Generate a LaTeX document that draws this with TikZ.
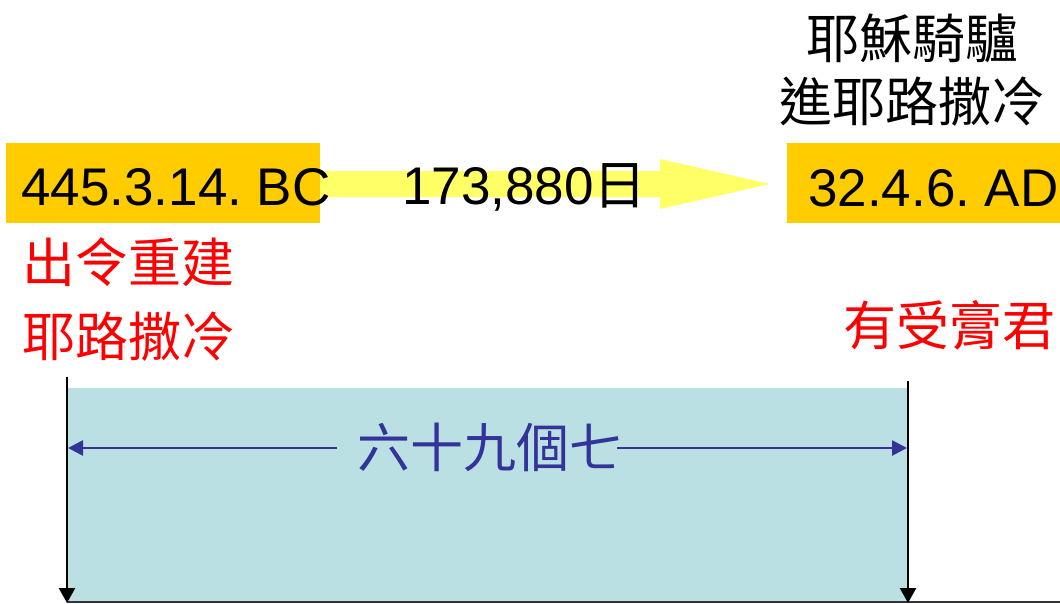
\documentclass[tikz,border=0pt]{standalone}
\usepackage{fontspec}
\setmainfont{Liberation Sans}
\newfontfamily\cjk{Noto Sans CJK TC}
\usetikzlibrary{arrows.meta}
\definecolor{boxorange}{HTML}{FFCC00}
\definecolor{arrowyellow}{HTML}{FFFF66}
\definecolor{spanblue}{HTML}{BBE0E3}
\definecolor{darkblue}{HTML}{333399}
\tikzset{
  datebox/.style={fill=boxorange, draw=none},
  latintext/.style={font=\frenchspacing\fontsize{53}{60}\selectfont, text=black, inner sep=0pt, anchor=base west},
  cjktext/.style={font=\cjk\fontsize{53}{60}\selectfont, inner sep=0pt, anchor=center},
  redtext/.style={cjktext, text=red},
  timeline/.style={line width=2.4pt, -{Triangle[length=15pt,width=16pt]}},
  spanarrow/.style={line width=2.6pt, draw=darkblue, -{Triangle[length=15pt,width=15pt]}},
}
\begin{document}
\frenchspacing
\begin{tikzpicture}[x=1pt,y=-1pt]
\useasboundingbox (0,0) rectangle (1060,603);
% span rectangle
\fill[spanblue] (67,388) rectangle (908,603);
% block arrow
\fill[arrowyellow] (318,171) -- (660,171) -- (660,159) -- (770,184) -- (660,209) -- (660,197) -- (318,197) -- cycle;
% date boxes
\fill[datebox] (6,143) rectangle (320,223);
\fill[datebox] (787,143) rectangle (1060,223);
\node[latintext] (start) at (21,205) {445.3.14. BC};
\node[latintext] (end) at (808,206) {32.4.6. AD};
\node[latintext] (days) at (402,204) {173,880{\cjk 日}};
% top right
\node[cjktext] (ride1) at (912,38) {耶穌騎驢};
\node[cjktext] (ride2) at (912,102) {進耶路撒冷};
% red labels
\node[redtext] (decree1) at (129,262) {出令重建};
\node[redtext] (decree2) at (129,337) {耶路撒冷};
\node[redtext] (anointed) at (949,325) {有受膏君};
% timeline
\coordinate (ltop) at (67,377);
\coordinate (lbot) at (67,603);
\coordinate (rtop) at (908,381);
\coordinate (rbot) at (908,603);
\coordinate (bend) at (1060,602);
\draw[line width=1.5pt, draw=black!80] (67,602) -- (bend);
\draw[timeline] (ltop) -- (lbot);
\draw[timeline] (rtop) -- (rbot);
% span label and arrows
\node[cjktext, text=darkblue] (weeks) at (490,447) {六十九個七};
\coordinate (lgap) at (337,448);
\coordinate (rgap) at (617,448);
\coordinate (larr) at (68,448);
\coordinate (rarr) at (907,448);
\draw[spanarrow] (lgap) -- (larr);
\draw[spanarrow] (rgap) -- (rarr);
\end{tikzpicture}
\end{document}
